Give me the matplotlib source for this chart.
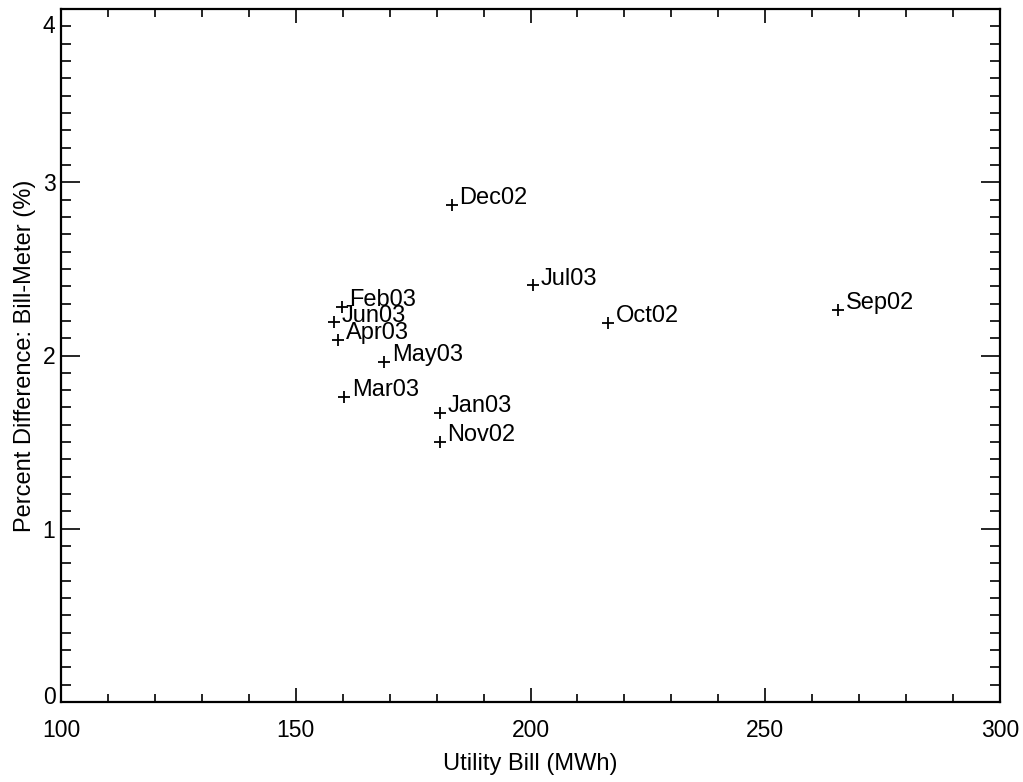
import numpy as np
import matplotlib
matplotlib.use('Agg')
import matplotlib.pyplot as plt
from matplotlib.ticker import MultipleLocator
from matplotlib.transforms import ScaledTranslation

plt.rcParams['font.family'] = ['Liberation Sans', 'DejaVu Sans']

# monthly bill vs. percent difference between bill and meter
months = ['Sep02', 'Oct02', 'Nov02', 'Dec02', 'Jan03', 'Feb03',
          'Mar03', 'Apr03', 'May03', 'Jun03', 'Jul03']
bill_mwh = [265.6, 216.5, 180.7, 183.2, 180.7, 159.8,
            160.3, 159.1, 168.8, 158.1, 200.6]
pct_diff = [2.265, 2.188, 1.502, 2.869, 1.668, 2.282,
            1.762, 2.089, 1.964, 2.192, 2.405]
x_ticks = [100, 150, 200, 250, 300]
y_ticks = [0, 1, 2, 3, 4]

fig = plt.figure(figsize=(10.23, 7.82), dpi=100)
ax = fig.add_axes([61 / 1023, 1 - 702 / 782, 939 / 1023, 693 / 782])

ax.plot(bill_mwh, pct_diff, linestyle='none', marker='+', color='black',
        markersize=9, markeredgewidth=1.3)
for name, x, y in zip(months, bill_mwh, pct_diff):
    ax.annotate(name, (x, y), xytext=(5.5, 0.5), textcoords='offset points',
                fontsize=17, va='baseline', ha='left')

ax.set_xlim(100, 300)
ax.set_ylim(0, 4)
ax.set_xticks(x_ticks)
ax.set_yticks(y_ticks)
ax.xaxis.set_minor_locator(MultipleLocator(10))
ax.yaxis.set_minor_locator(MultipleLocator(0.1))

ax.tick_params(which='both', direction='in', top=True, right=True,
               labelsize=16.5, color='black', width=1.2)
ax.tick_params(axis='x', which='major', length=10, pad=12)
ax.tick_params(axis='x', which='minor', length=5.5)
ax.tick_params(axis='y', which='major', length=14, pad=4)
ax.tick_params(axis='y', which='minor', length=7)
for s in ax.spines.values():
    s.set_linewidth(1.6)

# keep the end labels inside the axis box
ylabels = ax.get_yticklabels()
ylabels[0].set_transform(ylabels[0].get_transform() +
                         ScaledTranslation(0, 7 / 100, fig.dpi_scale_trans))
ylabels[-1].set_transform(ylabels[-1].get_transform() +
                          ScaledTranslation(0, -15 / 100, fig.dpi_scale_trans))

ax.set_xlabel('Utility Bill (MWh)', fontsize=17, labelpad=8)
ax.set_ylabel('Percent Difference: Bill-Meter (%)', fontsize=17, labelpad=5)

fig.savefig('out.png', dpi=100)
